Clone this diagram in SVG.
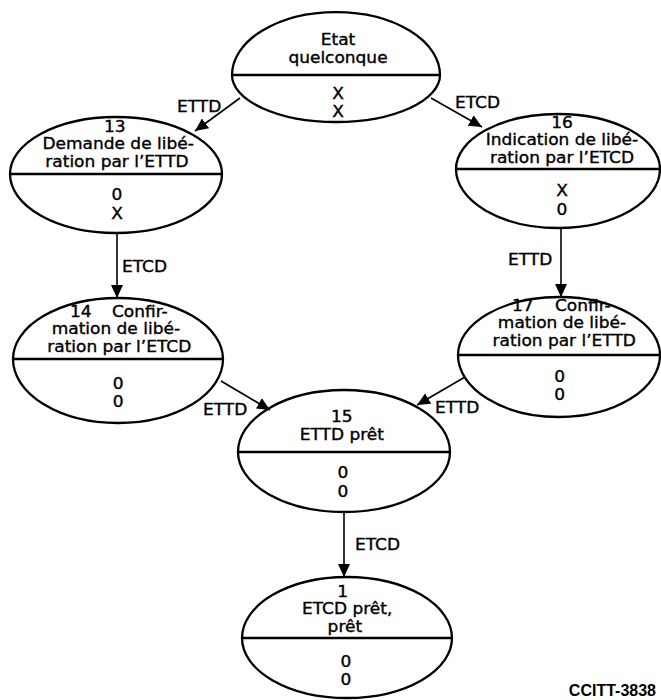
<svg xmlns="http://www.w3.org/2000/svg" width="661" height="700" viewBox="0 0 661 700">
<style>
.n{fill:none;stroke:#000;stroke-width:2.3}
.d{stroke:#000;stroke-width:2.7}
.t{font-family:"DejaVu Sans",sans-serif;font-size:15px;fill:#000;stroke:#000;stroke-width:0.35;text-anchor:middle}
.l{font-family:"DejaVu Sans",sans-serif;font-size:15px;fill:#000;stroke:#000;stroke-width:0.35}
.c{stroke:#000;stroke-width:1.6;fill:none}
</style>
<defs>
<marker id="ah" markerUnits="userSpaceOnUse" markerWidth="14" markerHeight="12" viewBox="0 0 14 12" refX="13" refY="6" orient="auto">
<path d="M0,0 L13,6 L0,12 Z" fill="#000"/>
</marker>
</defs>
<rect width="661" height="700" fill="#fff"/>
<g id="connectors">
<line class="c" x1="240" y1="98" x2="195" y2="131" marker-end="url(#ah)"/>
<line class="c" x1="431" y1="98" x2="482" y2="127" marker-end="url(#ah)"/>
<line class="c" x1="117" y1="233" x2="117" y2="298" marker-end="url(#ah)"/>
<line class="c" x1="561" y1="228" x2="561" y2="297" marker-end="url(#ah)"/>
<line class="c" x1="221" y1="381" x2="270" y2="410" marker-end="url(#ah)"/>
<line class="c" x1="465" y1="377" x2="417" y2="405" marker-end="url(#ah)"/>
<line class="c" x1="344" y1="512" x2="344" y2="577" marker-end="url(#ah)"/>
<text class="l" x="177" y="112" transform="matrix(1.133 0 0 1 -23.54 0)">ETTD</text>
<text class="l" x="455" y="108" transform="matrix(1.133 0 0 1 -60.52 0)">ETCD</text>
<text class="l" x="122" y="272" transform="matrix(1.133 0 0 1 -16.23 0)">ETCD</text>
<text class="l" x="508" y="265" transform="matrix(1.133 0 0 1 -67.56 0)">ETTD</text>
<text class="l" x="203" y="415" transform="matrix(1.133 0 0 1 -27.0 0)">ETTD</text>
<text class="l" x="435" y="413" transform="matrix(1.133 0 0 1 -57.86 0)">ETTD</text>
<text class="l" x="355" y="550" transform="matrix(1.133 0 0 1 -47.22 0)">ETCD</text>
</g>
<g id="node-etat">
<path class="n" d="M232,75 A104,63 0 0 1 440,75 A104,47 0 0 1 232,75 Z"/>
<line class="d" x1="232" y1="75" x2="440" y2="75"/>
<g transform="matrix(1.133 0 0 1 -44.95 0)">
<text class="t" x="338" y="45.5">Etat</text>
<text class="t" x="338" y="63">quelconque</text>
<text class="t" x="338" y="99">X</text>
<text class="t" x="338" y="117">X</text>
</g>
</g>
<g id="node-13">
<path class="n" d="M10,174 A106,57 0 0 1 222,174 A106,59 0 0 1 10,174 Z"/>
<line class="d" x1="10" y1="174" x2="222" y2="174"/>
<g transform="matrix(1.133 0 0 1 -15.56 0)">
<text class="t" x="115" y="132">13</text>
<text class="t" x="118" y="149.5">Demande de libé-</text>
<text class="t" x="117" y="167">ration par l’ETTD</text>
<text class="t" x="117" y="200">0</text>
<text class="t" x="117" y="219">X</text>
</g>
</g>
<g id="node-16">
<path class="n" d="M456,169 A102,55 0 0 1 660,169 A102,59 0 0 1 456,169 Z"/>
<line class="d" x1="456" y1="169" x2="660" y2="169"/>
<g transform="matrix(1.133 0 0 1 -74.75 0)">
<text class="t" x="562" y="128">16</text>
<text class="t" x="562" y="145.5">Indication de libé-</text>
<text class="t" x="562" y="163">ration par l’ETCD</text>
<text class="t" x="562" y="196">X</text>
<text class="t" x="562" y="215">0</text>
</g>
</g>
<g id="node-14">
<path class="n" d="M13,359 A105,61 0 0 1 223,359 A105,64 0 0 1 13,359 Z"/>
<line class="d" x1="13" y1="359" x2="223" y2="359"/>
<g transform="matrix(1.133 0 0 1 -15.56 0)">
<text class="l" y="317"><tspan x="75.5">14</tspan><tspan x="112.6">Confir-</tspan></text>
<text class="t" x="116" y="334.5">mation de libé-</text>
<text class="t" x="119" y="352">ration par l’ETCD</text>
<text class="t" x="118" y="389">0</text>
<text class="t" x="118" y="407">0</text>
</g>
</g>
<g id="node-17">
<path class="n" d="M458,355 A101,58 0 0 1 660,355 A101,62 0 0 1 458,355 Z"/>
<line class="d" x1="458" y1="355" x2="660" y2="355"/>
<g transform="matrix(1.133 0 0 1 -74.75 0)">
<text class="l" y="311"><tspan x="517.9">17</tspan><tspan x="555.8">Confir-</tspan></text>
<text class="t" x="562" y="328.5">mation de libé-</text>
<text class="t" x="564" y="346">ration par l’ETTD</text>
<text class="t" x="560" y="382">0</text>
<text class="t" x="560" y="400">0</text>
</g>
</g>
<g id="node-15">
<path class="n" d="M238,452 A106,62 0 0 1 450,452 A106,60 0 0 1 238,452 Z"/>
<line class="d" x1="238" y1="452" x2="450" y2="452"/>
<g transform="matrix(1.133 0 0 1 -45.62 0)">
<text class="t" x="342" y="422">15</text>
<text class="t" x="342" y="440">ETTD prêt</text>
<text class="t" x="343" y="478">0</text>
<text class="t" x="343" y="497">0</text>
</g>
</g>
<g id="node-1">
<path class="n" d="M242,638 A105,61 0 0 1 452,638 A105,60 0 0 1 242,638 Z"/>
<line class="d" x1="242" y1="638" x2="452" y2="638"/>
<g transform="matrix(1.133 0 0 1 -46.02 0)">
<text class="t" x="343" y="597">1</text>
<text class="t" x="347" y="614.5">ETCD prêt,</text>
<text class="t" x="345" y="632">prêt</text>
<text class="t" x="346" y="667">0</text>
<text class="t" x="346" y="685">0</text>
</g>
</g>
<text x="656" y="696" text-anchor="end" font-family="Liberation Sans, Arial, sans-serif" font-weight="bold" font-size="16">CCITT-3838</text>
</svg>
